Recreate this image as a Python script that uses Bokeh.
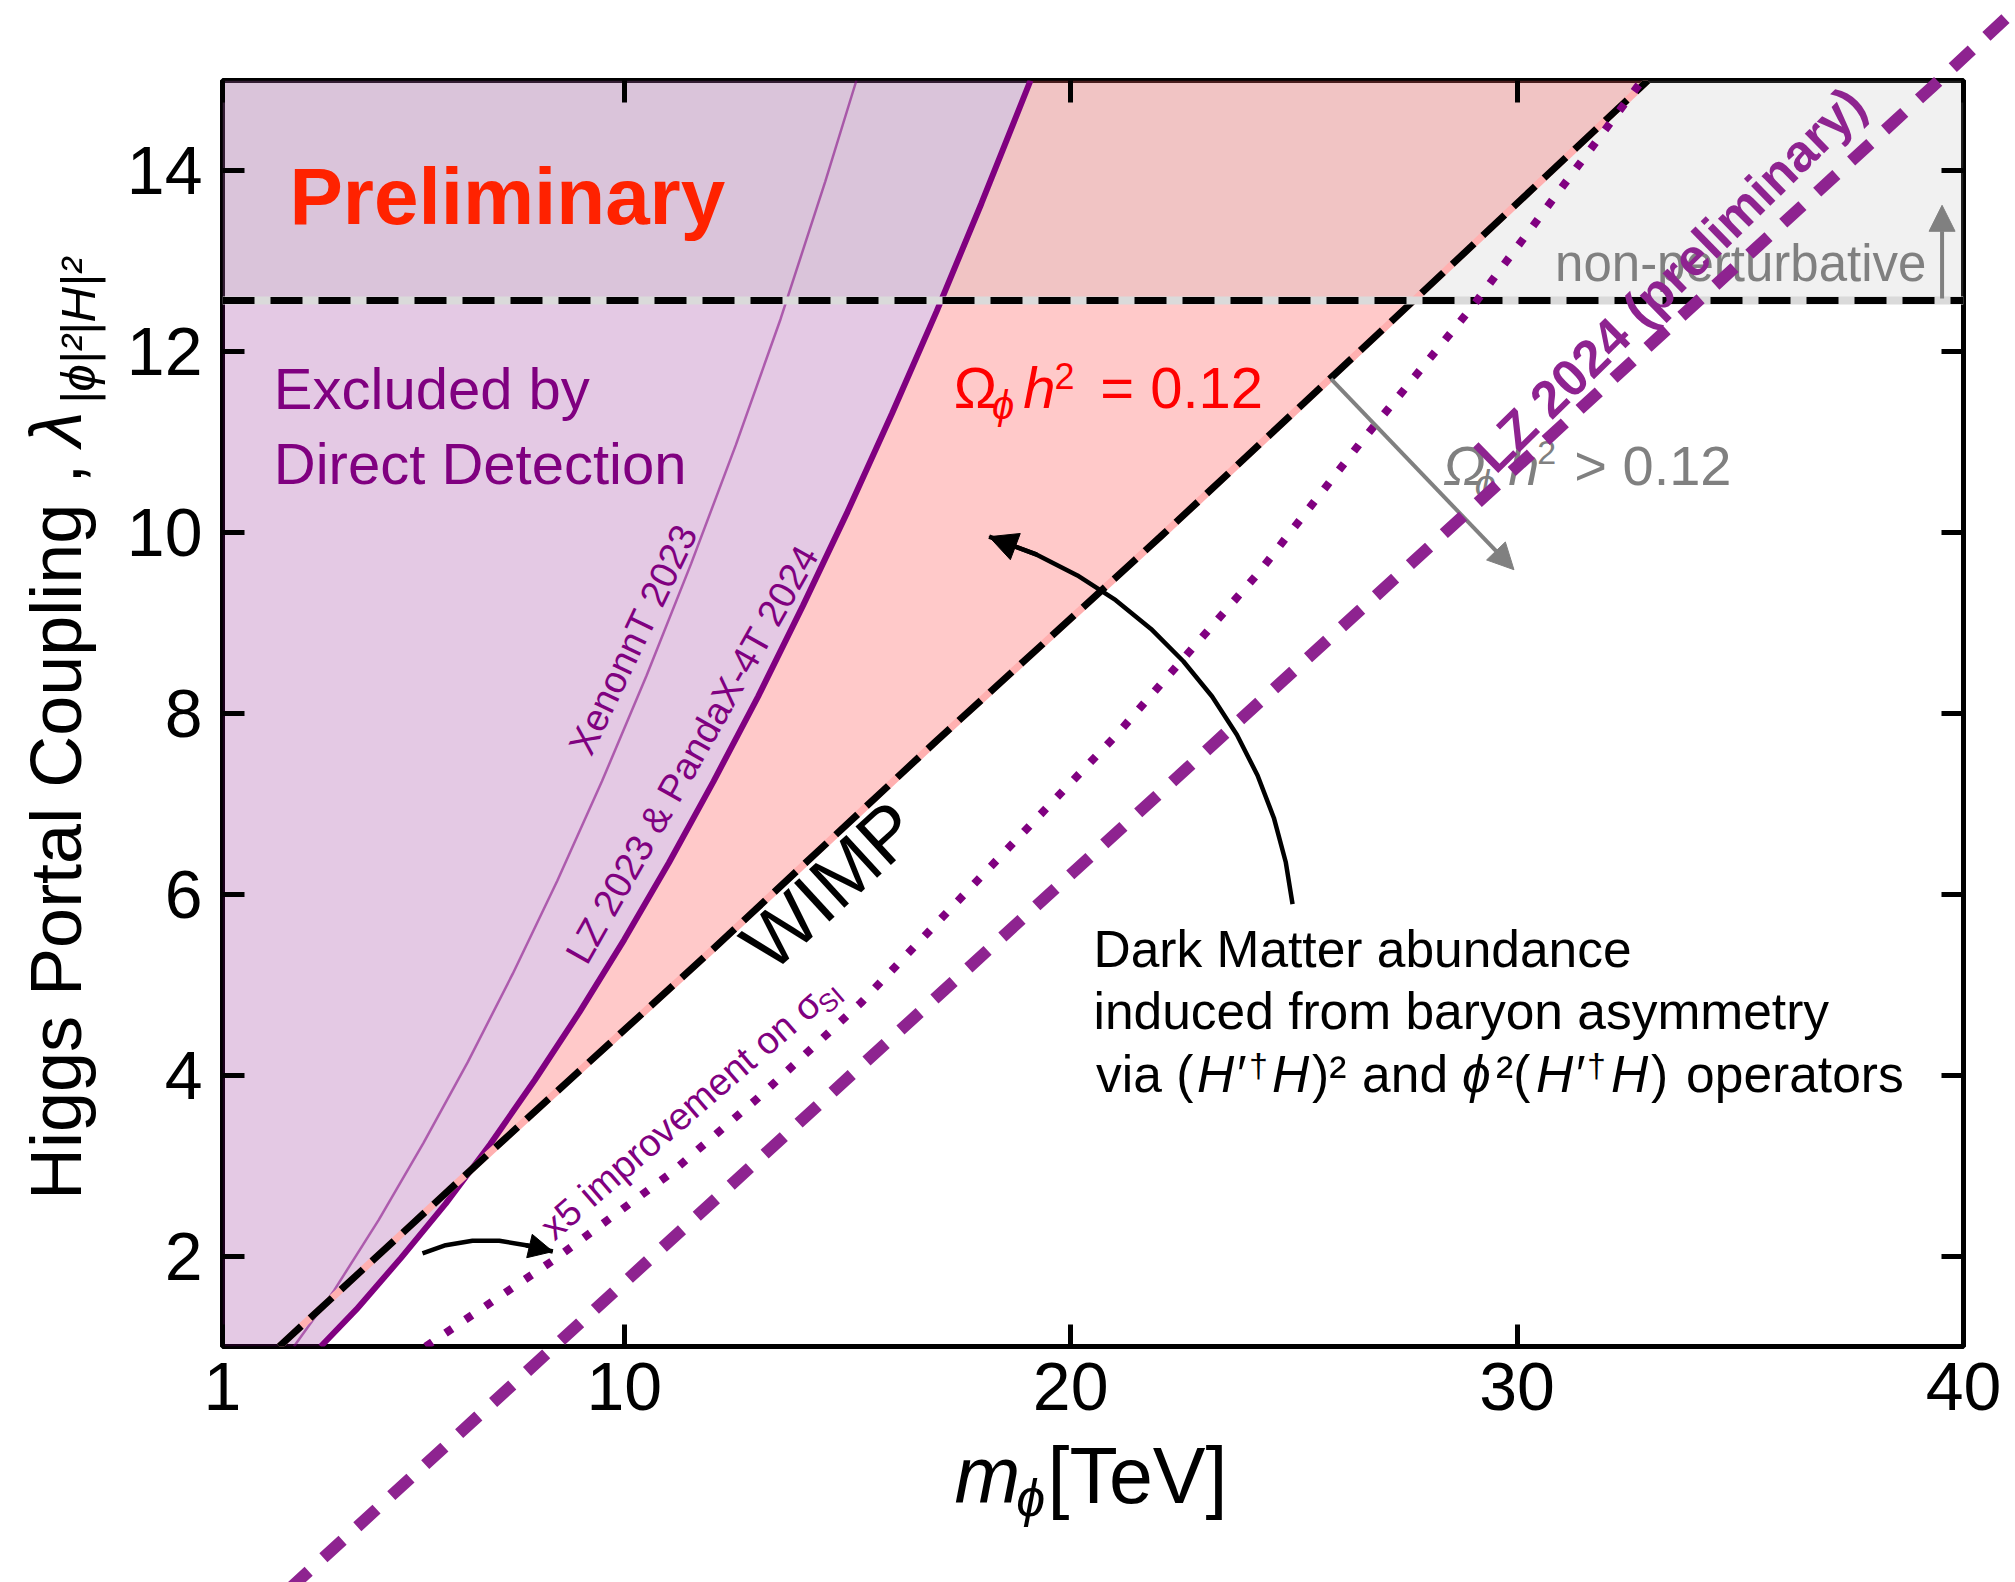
import numpy as np
from bokeh.plotting import figure
from bokeh.models import (Range1d, FixedTicker, LinearAxis, Label, Arrow, NormalHead,
                          CustomJSTickFormatter)
from bokeh.core.properties import value
from bokeh.embed import file_html
from bokeh.resources import INLINE

# ---------------- data ----------------
x_lim = [1, 40]
y_lim = [1, 15]
x_ticks = [1, 10, 20, 30, 40]
y_ticks = [2, 4, 6, 8, 10, 12, 14]

# LZ 2023 & PandaX-4T 2024 limit
lz23_x = [3.2, 4.0, 5.0, 6.0, 7.0, 8.0, 9.0, 10.0, 11.0, 12.0, 13.0, 14.0, 15.0, 16.0, 17.0, 18.0, 19.1]
lz23_y = [1.0, 1.41, 1.98, 2.58, 3.24, 3.95, 4.70, 5.50, 6.35, 7.25, 8.19, 9.19, 10.23, 11.32, 12.45, 13.64, 15.0]

# XenonnT 2023 limit
xenon_x = [2.6, 3.5, 4.5, 5.5, 6.5, 7.5, 8.5, 9.5, 10.5, 11.5, 12.5, 13.5, 14.5, 15.2]
xenon_y = [1.0, 1.62, 2.40, 3.25, 4.15, 5.12, 6.15, 7.25, 8.42, 9.66, 10.97, 12.36, 13.88, 15.0]

# WIMP relic line (Omega h^2 = 0.12)
wimp_x = [2.27, 7.0, 12.0, 17.0, 22.0, 27.0, 32.93]
wimp_y = [1.0, 3.15, 5.4, 7.7, 9.95, 12.25, 15.0]

# x5 improvement on sigma_SI
x5_x = [5.55, 8.4, 11.0, 13.0, 15.3, 18.0, 21.0, 24.2, 26.5, 29.0, 32.8]
x5_y = [1.0, 1.95, 2.9, 3.75, 4.8, 6.2, 7.75, 9.55, 11.0, 12.5, 15.0]

# LZ 2024 (preliminary)
lz24_x = [2.5, 8.3, 15.3, 26.5, 39.3, 41.3]
lz24_y = [-1.68, 0.94, 4.1, 9.15, 14.93, 15.85]

pert_limit = 12.566  # 4 pi

# annotation arrow paths
dm_arrow_x = [24.970, 24.817, 24.552, 24.187, 23.723, 23.168, 22.523, 21.800, 21.009, 20.151, 19.241, 18.173]
dm_arrow_y = [5.893, 6.358, 6.845, 7.315, 7.764, 8.188, 8.578, 8.935, 9.253, 9.527, 9.756, 9.955]
sm_arrow_x = [5.48, 6.0, 6.6, 7.2, 7.8, 8.40]
sm_arrow_y = [2.03, 2.12, 2.17, 2.17, 2.12, 2.05]

FONT = "Liberation Sans"
PURPLE = "#800080"
LZ24C = "#8e2390"
GRAY = "#808080"

FW, FH = 1741, 1266
PX_X = FW / (x_lim[1] - x_lim[0])
PX_Y = FH / (y_lim[1] - y_lim[0])

p = figure(frame_width=FW, frame_height=FH,
           x_range=Range1d(*x_lim), y_range=Range1d(*y_lim),
           output_backend="svg", toolbar_location=None,
           min_border_left=222, min_border_right=52, min_border_top=80, min_border_bottom=236)
p.xgrid.visible = False
p.ygrid.visible = False
p.background_fill_color = "white"
p.border_fill_color = "white"
p.outline_line_color = "black"
p.outline_line_width = 5
p.outline_line_alpha = 1.0

for ax, tk in ((p.xaxis[0], x_ticks), (p.yaxis[0], y_ticks)):
    ax.ticker = FixedTicker(ticks=tk)
    ax.minor_tick_line_color = None
    ax.major_tick_in = 22
    ax.major_tick_out = 0
    ax.major_tick_line_width = 5
    ax.major_tick_line_color = "black"
    ax.axis_line_color = None
    ax.major_label_text_font = FONT
    ax.major_label_text_font_size = "68px"
    ax.major_label_text_color = "black"
p.xaxis.major_label_standoff = 16
p.yaxis.major_label_standoff = 20

blank = CustomJSTickFormatter(code="return ''")
for side, tk in (("above", x_ticks), ("right", y_ticks)):
    ax = LinearAxis(ticker=FixedTicker(ticks=tk), formatter=blank,
                    major_tick_in=22, major_tick_out=0, major_tick_line_width=5,
                    minor_tick_line_color=None, axis_line_color=None,
                    major_label_text_font_size="1px")
    p.add_layout(ax, side)

# ---------------- regions ----------------
ygrid = np.linspace(y_lim[0], y_lim[1], 700)
lz_at = np.interp(ygrid, lz23_y, lz23_x)
wimp_at = np.interp(ygrid, wimp_y, wimp_x)
p.harea(y=ygrid, x1=np.full_like(ygrid, x_lim[0]), x2=lz_at,
        fill_color=PURPLE, fill_alpha=0.21)
p.harea(y=ygrid, x1=lz_at, x2=np.maximum(lz_at, wimp_at),
        fill_color="#ff0000", fill_alpha=0.21)
p.quad(left=x_lim[0], right=x_lim[1], bottom=pert_limit, top=y_lim[1],
       fill_color="#aeaeae", fill_alpha=0.17, line_color=None)

# ---------------- curves ----------------
p.line(xenon_x, xenon_y, line_color=PURPLE, line_alpha=0.55, line_width=2.5)
p.line(lz23_x, lz23_y, line_color=PURPLE, line_width=6)
p.line(wimp_x, wimp_y, line_color="#ffb0b0", line_width=7)
p.line(wimp_x, wimp_y, line_color="black", line_width=7, line_dash="30 12")
p.line(x_lim, [pert_limit, pert_limit], line_color="#dadada", line_width=8)
p.line(x_lim, [pert_limit, pert_limit], line_color="black", line_width=7, line_dash="32 16")
p.line(x5_x, x5_y, line_color=PURPLE, line_width=8, line_dash="8 16")
r24 = p.line(lz24_x, lz24_y, line_color=LZ24C, line_width=12, line_dash="26 20")
r24.level = "overlay"

BASE_FIX = 0.37  # em: alphabetic-baseline compensation


def lab(x, y, text, size, color="black", style="normal", angle=0.0,
        align="left", baseline="alphabetic", outside=False):
    th = np.deg2rad(angle)
    if baseline == "alphabetic":
        d = BASE_FIX * size
        x = x - d * np.sin(th) / PX_X
        y = y + d * np.cos(th) / PX_Y
    if outside:
        r = p.text(x=[x], y=[y], text=[text], text_font=value(FONT),
                   text_font_size=value(f"{size}px"), text_color=color,
                   text_font_style=style, angle=th, text_align=align,
                   text_baseline=baseline)
        r.level = "overlay"
    else:
        p.add_layout(Label(x=x, y=y, text=text, text_font=FONT, text_font_size=f"{size}px",
                           text_color=color, text_font_style=style, angle=th,
                           text_align=align, text_baseline=baseline))


def dx(px):
    return px / PX_X


# ---------------- texts ----------------
lab(2.50, 13.39, "Preliminary", 80, "#ff2200", "bold")
lab(2.15, 11.36, "Excluded by", 58, PURPLE)
lab(2.15, 10.53, "Direct Detection", 58, PURPLE)

lab(17.38, 11.37, "Ω", 58, "red")
lab(18.24, 11.25, "ϕ", 40, "red", "italic")
lab(18.94, 11.37, "h", 58, "red", "italic")
lab(19.64, 11.59, "2", 36, "red")
lab(20.66, 11.37, "= 0.12", 58, "red")

lab(28.34, 10.51, "Ω", 56, GRAY, "italic")
lab(29.05, 10.38, "ϕ", 38, GRAY, "italic")
lab(29.80, 10.51, "h", 56, GRAY, "italic")
lab(30.45, 10.75, "2", 34, GRAY)
lab(31.28, 10.51, "> 0.12", 56, GRAY)

lab(30.85, 12.77, "non-perturbative", 51, GRAY)

lab(14.60, 6.10, "WIMP", 76, "black", angle=42.6, align="center", baseline="middle")
lab(10.20, 8.82, "XenonnT 2023", 38, PURPLE, angle=64.5, align="center", baseline="middle")
lab(11.52, 7.55, "LZ 2023 & PandaX-4T 2024", 38, PURPLE, angle=60.5, align="center", baseline="middle")
lab(8.45, 2.15, "x5 improvement on σ", 38, PURPLE, angle=40.9)
lab(14.57, 4.66, "SI", 26, PURPLE, angle=40.9)
lab(33.42, 12.80, "LZ 2024 (preliminary)", 52, LZ24C, "bold", angle=44.5,
    align="center", baseline="middle")

DMS = 51.5
x0 = 20.51
lab(x0, 5.19, "Dark Matter abundance", DMS)
lab(x0, 4.50, "induced from baryon asymmetry", DMS)
yb = 3.80
sup = 16 / PX_Y
x0 = 20.57
lab(x0 + dx(0), yb, "via (", DMS)
lab(x0 + dx(101), yb, "H", DMS, style="italic")
lab(x0 + dx(141), yb, "′", DMS)
lab(x0 + dx(153), yb + sup, "†", 34)
lab(x0 + dx(176), yb, "H", DMS, style="italic")
lab(x0 + dx(216), yb, ")²", DMS)
lab(x0 + dx(266), yb, "and", DMS)
lab(x0 + dx(366), yb, "ϕ", DMS, style="italic")
lab(x0 + dx(400), yb, "²(", DMS)
lab(x0 + dx(440), yb, "H", DMS, style="italic")
lab(x0 + dx(480), yb, "′", DMS)
lab(x0 + dx(491), yb + sup, "†", 34)
lab(x0 + dx(515), yb, "H", DMS, style="italic")
lab(x0 + dx(555), yb, ")", DMS)
lab(x0 + dx(590), yb, "operators", DMS)

# axis titles (outside the frame -> unclipped glyphs)
lab(17.40, -0.75, "m", 79, style="italic", outside=True)
lab(18.78, -0.89, "ϕ", 52, style="italic", outside=True)
lab(19.48, -0.75, "[TeV]", 79, outside=True)
lab(-2.14, 2.62, "Higgs Portal Coupling ,", 72, angle=90, outside=True)
lab(-2.14, 10.95, "λ", 72, style="italic", angle=90, outside=True)
lab(-1.84, 11.42, "|ϕ|²|H|²", 49, style="italic", angle=90, outside=True)

# ---------------- arrows ----------------
p.add_layout(Arrow(end=NormalHead(size=26, fill_color=GRAY, line_color=GRAY),
                   x_start=25.83, y_start=11.70, x_end=29.93, y_end=9.59,
                   line_color=GRAY, line_width=4))
p.add_layout(Arrow(end=NormalHead(size=26, fill_color=GRAY, line_color=GRAY),
                   x_start=39.52, y_start=12.59, x_end=39.52, y_end=13.62,
                   line_color=GRAY, line_width=4))

p.line(dm_arrow_x, dm_arrow_y, line_color="black", line_width=4.5)
p.add_layout(Arrow(end=NormalHead(size=28, fill_color="black", line_color="black"),
                   x_start=dm_arrow_x[-2], y_start=dm_arrow_y[-2],
                   x_end=dm_arrow_x[-1], y_end=dm_arrow_y[-1],
                   line_color="black", line_width=4.5))
p.line(sm_arrow_x, sm_arrow_y, line_color="black", line_width=4.5)
p.add_layout(Arrow(end=NormalHead(size=24, fill_color="black", line_color="black"),
                   x_start=sm_arrow_x[-2], y_start=sm_arrow_y[-2],
                   x_end=sm_arrow_x[-1], y_end=sm_arrow_y[-1],
                   line_color="black", line_width=4.5))

open("out.html", "w").write(file_html(p, INLINE))
